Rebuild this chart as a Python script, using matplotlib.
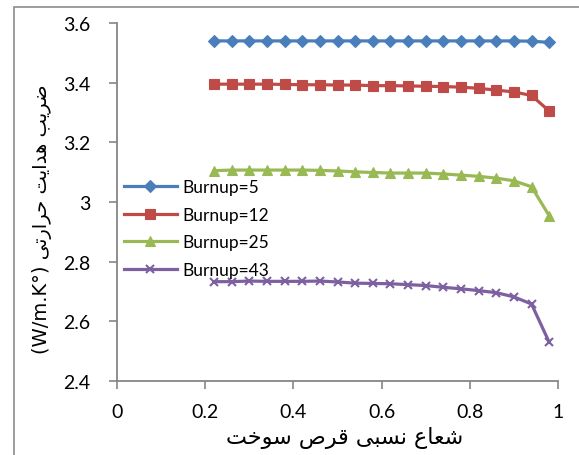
import matplotlib
matplotlib.use("Agg")
import matplotlib.pyplot as plt
from matplotlib.patches import Rectangle
from matplotlib.ticker import FuncFormatter, MultipleLocator


radius = [0.22, 0.26, 0.30, 0.34, 0.38, 0.42, 0.46, 0.50, 0.54, 0.58,
          0.62, 0.66, 0.70, 0.74, 0.78, 0.82, 0.86, 0.90, 0.94, 0.98]

burnup_5 = [3.540, 3.540, 3.540, 3.540, 3.540, 3.540, 3.540, 3.540, 3.540, 3.540,
            3.540, 3.540, 3.540, 3.540, 3.540, 3.540, 3.540, 3.540, 3.539, 3.535]
burnup_12 = [3.395, 3.395, 3.395, 3.395, 3.394, 3.393, 3.393, 3.392, 3.392, 3.390,
             3.390, 3.389, 3.388, 3.387, 3.385, 3.381, 3.375, 3.369, 3.357, 3.305]
burnup_25 = [3.105, 3.107, 3.107, 3.107, 3.107, 3.107, 3.106, 3.104, 3.101, 3.099,
             3.097, 3.097, 3.097, 3.094, 3.090, 3.086, 3.080, 3.071, 3.051, 2.954]
burnup_43 = [2.733, 2.733, 2.735, 2.734, 2.734, 2.734, 2.735, 2.732, 2.728, 2.727,
             2.726, 2.723, 2.720, 2.714, 2.709, 2.703, 2.696, 2.682, 2.658, 2.530]

series = [
    ("Burnup=5", burnup_5, "#4A7EBB", "D", 6),
    ("Burnup=12", burnup_12, "#BE4B48", "s", 7),
    ("Burnup=25", burnup_25, "#98B954", "^", 7),
    ("Burnup=43", burnup_43, "#7D60A0", "x", 6),
]

x_title = "شعاع نسبی قرص سوخت"
y_title = "ضریب هدایت حرارتی"
y_unit = "(W/m.K°)"

# Arabic presentation forms: isolated, final, initial, medial
forms = {
    "ا": ("\uFE8D", "\uFE8E", None, None),
    "ب": ("\uFE8F", "\uFE90", "\uFE91", "\uFE92"),
    "ت": ("\uFE95", "\uFE96", "\uFE97", "\uFE98"),
    "ح": ("\uFEA1", "\uFEA2", "\uFEA3", "\uFEA4"),
    "خ": ("\uFEA5", "\uFEA6", "\uFEA7", "\uFEA8"),
    "د": ("\uFEA9", "\uFEAA", None, None),
    "ر": ("\uFEAD", "\uFEAE", None, None),
    "س": ("\uFEB1", "\uFEB2", "\uFEB3", "\uFEB4"),
    "ش": ("\uFEB5", "\uFEB6", "\uFEB7", "\uFEB8"),
    "ص": ("\uFEB9", "\uFEBA", "\uFEBB", "\uFEBC"),
    "ض": ("\uFEBD", "\uFEBE", "\uFEBF", "\uFEC0"),
    "ع": ("\uFEC9", "\uFECA", "\uFECB", "\uFECC"),
    "ق": ("\uFED5", "\uFED6", "\uFED7", "\uFED8"),
    "ن": ("\uFEE5", "\uFEE6", "\uFEE7", "\uFEE8"),
    "ه": ("\uFEE9", "\uFEEA", "\uFEEB", "\uFEEC"),
    "و": ("\uFEED", "\uFEEE", None, None),
    "ی": ("\uFBFC", "\uFBFD", "\uFBFE", "\uFBFF"),
}


def rtl(text):
    # shape letters by joining context, then put them in visual order
    out = []
    for i, ch in enumerate(text):
        if ch not in forms:
            out.append(ch)
            continue
        prev = text[i - 1] if i > 0 else ""
        nxt = text[i + 1] if i + 1 < len(text) else ""
        join_prev = prev in forms and forms[prev][2] is not None
        join_next = nxt in forms and forms[ch][2] is not None
        isol, fin, init, med = forms[ch]
        if join_prev and join_next:
            out.append(med)
        elif join_prev:
            out.append(fin)
        elif join_next:
            out.append(init)
        else:
            out.append(isol)
    return "".join(reversed(out))


plt.rcParams["font.family"] = ["Lato", "DejaVu Sans"]

fig = plt.figure(figsize=(5.79, 4.56), dpi=100)
fig.patches.append(Rectangle((14 / 579, -0.1), 1.2, 1 - 8 / 456 + 0.1,
                             transform=fig.transFigure, fill=False,
                             edgecolor="#8c8c8c", linewidth=1.2, clip_on=False))
ax = fig.add_axes([117 / 579, 1 - 382 / 456, 441 / 579, 358 / 456])

for label, values, color, marker, size in series:
    ax.plot(radius, values, color=color, linewidth=2.3, marker=marker,
            markersize=size, markeredgewidth=1.5 if marker == "x" else 0.8,
            markeredgecolor=color, markerfacecolor=color, label=label)

ax.set_xlim(0, 1)
ax.set_ylim(2.4, 3.6)
ax.xaxis.set_major_locator(MultipleLocator(0.2))
ax.yaxis.set_major_locator(MultipleLocator(0.2))
ax.xaxis.set_major_formatter(FuncFormatter(lambda v, p: f"{v:g}"))
ax.yaxis.set_major_formatter(FuncFormatter(lambda v, p: f"{v:.1f}".rstrip("0").rstrip(".")))

for side in ["top", "right"]:
    ax.spines[side].set_visible(False)
for side in ["left", "bottom"]:
    ax.spines[side].set_color("#868686")
    ax.spines[side].set_linewidth(1.3)
ax.tick_params(axis="both", direction="out", length=6, width=1.2,
               color="#868686", labelsize=14, labelcolor="black")
ax.tick_params(axis="y", pad=13)
ax.tick_params(axis="x", pad=10)

ax.set_xlabel(rtl(x_title), fontsize=16, fontfamily="DejaVu Sans")
ax.xaxis.set_label_coords(0.517, -0.125)
ax.set_ylabel(y_unit + " " + rtl(y_title), fontsize=14, fontfamily="DejaVu Sans")
ax.yaxis.set_label_coords(-0.148, 0.455)

ax.legend(loc="upper left", bbox_to_anchor=(124 / 579, 1 - 180 / 456),
          bbox_transform=fig.transFigure, frameon=False, fontsize=12.5,
          handlelength=3.05, handletextpad=0.3, labelspacing=0.67,
          borderaxespad=0, borderpad=0)

fig.savefig("out.png", dpi=100)
